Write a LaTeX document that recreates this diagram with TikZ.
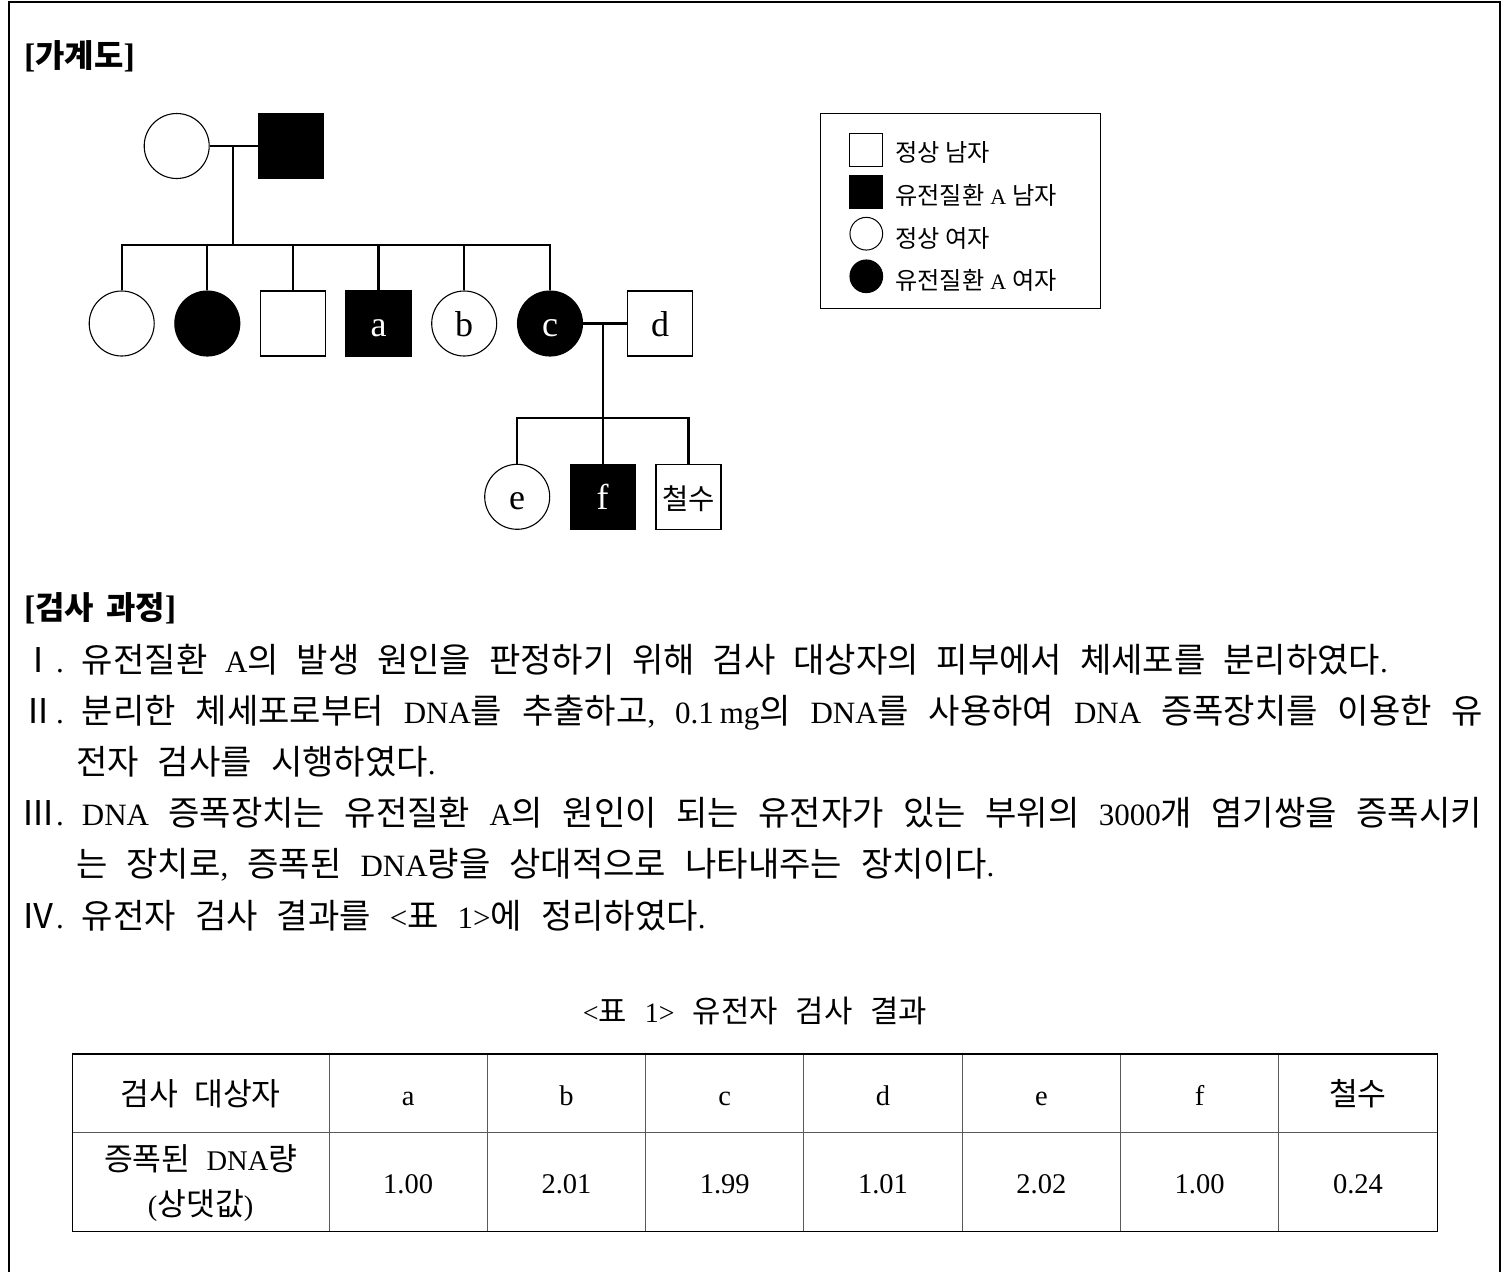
\documentclass[tikz,border=0pt]{standalone}
\usepackage{fontspec}
\setmainfont{Liberation Serif}
\newfontfamily\krfont{Noto Sans CJK KR}[Scale=1.1]
\XeTeXinterchartokenstate=1
\newXeTeXintercharclass\krclass
\makeatletter
\count@="AC00
\loop\ifnum\count@<"D7A4
  \XeTeXcharclass\count@=\krclass
  \advance\count@ by 1
\repeat
\makeatother
\XeTeXcharclass"2160=\krclass
\XeTeXcharclass"2161=\krclass
\XeTeXcharclass"2162=\krclass
\XeTeXcharclass"2163=\krclass
\XeTeXinterchartoks 0 \krclass = {\krfont}
\XeTeXinterchartoks 4095 \krclass = {\krfont}
\XeTeXinterchartoks \krclass 0 = {\rmfamily}
\XeTeXinterchartoks \krclass 4095 = {\rmfamily}
\newcommand\mybodyfont{\fontsize{31}{37}\selectfont\frenchspacing\spaceskip=19pt plus 40pt minus 8pt\xspaceskip=\spaceskip}
\newcommand\mylegfont{\fontsize{22}{26}\selectfont\spaceskip=6pt\relax}
\newcommand\mytabfont{\fontsize{28.5}{34}\selectfont\spaceskip=16pt\relax}
\newcommand\mycapfont{\fontsize{28}{34}\selectfont\spaceskip=18pt\relax}
\newcommand\myheadfont{\fontsize{29}{36}\selectfont\bfseries\spaceskip=12pt\relax}
\newcommand\bigbr[1]{{\fontsize{34}{38}\selectfont#1}}
\begin{document}
\begin{tikzpicture}[x=1pt,y=-1pt,
  ped/.style={draw=black, line width=1.1pt, minimum size=65pt, inner sep=0pt, text height=25pt, text depth=0pt, font=\fontsize{36}{40}\selectfont},
  fem/.style={ped, circle},
  mal/.style={ped, rectangle},
  aff/.style={fill=black, text=white},
  link/.style={line width=2.3pt},
  leg/.style={draw=black, line width=1pt, minimum size=32.7pt, inner sep=0pt},
  legtxt/.style={anchor=base west, inner sep=0pt, font=\mylegfont},
  body/.style={anchor=base west, inner sep=0pt, font=\mybodyfont},
  numr/.style={anchor=base east, inner sep=0pt, font=\mybodyfont},
  head/.style={anchor=base west, inner sep=0pt, font=\myheadfont},
  tab/.style={anchor=base, inner sep=0pt, font=\mytabfont},
  outer/.style={line width=1.5pt, draw=black},
  inner/.style={line width=1pt, draw=black!65}
]
\useasboundingbox (0,0) rectangle (1504,1272);
\draw[line width=1.5pt] (9,1272) -- (9,2) -- (1500,2) -- (1500,1272);

% headings
\node[head] (h1) at (24,67) {\bigbr{[}가계도\bigbr{]}};
\node[head] (h2) at (24,619) {\bigbr{[}검사 과정\bigbr{]}};

% pedigree: generation I
\node[fem] (gm) at (176.7,146) {};
\node[mal,aff] (gf) at (290.8,146) {};
\coordinate (m1) at (233.3,146);
\coordinate (bar) at (0,245);
\draw[link] (gm.east) -- (gf.west);
\draw[link] (m1) -- (m1 |- bar);

% generation II
\node[fem] (c1) at (121.7,323.5) {};
\node[fem,aff] (c2) at (207.3,323.5) {};
\node[mal] (c3) at (292.8,323.5) {};
\node[mal,aff] (pa) at (378.5,323.5) {a};
\node[fem] (pb) at (464.2,323.5) {b};
\node[fem,aff] (pc) at (550,323.5) {c};
\node[mal] (pd) at (660.2,323.5) {d};
\draw[link] (c1.north) -- (c1.north |- bar) -- (pc.north |- bar) -- (pc.north);
\foreach \n in {c2,c3,pa,pb}{\draw[link] (\n.north) -- (\n.north |- bar);}
\coordinate (m2) at (602.7,323.5);
\coordinate (bar2) at (0,418.3);
\draw[link] (pc.east) -- (pd.west);
\draw[link] (m2) -- (m2 |- bar2);

% generation III
\node[fem] (pe) at (517.2,496.8) {e};
\node[mal,aff] (pf) at (602.7,496.8) {f};
\node[mal,font=\fontsize{26}{30}\selectfont] (cs) at (688.5,496.8) {철수};
\draw[link] (pe.north) -- (pe.north |- bar2) -- (cs.north |- bar2) -- (cs.north);
\draw[link] (pf.north) -- (pf.north |- bar2);

% legend
\draw[line width=1pt] (820.7,113.3) rectangle (1100,308.3);
\node[leg,rectangle] (l1s) at (866.3,149.7) {};
\node[leg,rectangle,fill=black] (l2s) at (866.3,192.2) {};
\node[leg,circle] (l3s) at (866.3,233.7) {};
\node[leg,circle,fill=black] (l4s) at (866.3,276.3) {};
\node[legtxt] (l1t) at (895,161.7) {정상 남자};
\node[legtxt] (l2t) at (895,204) {유전질환 A 남자};
\node[legtxt] (l3t) at (895,247) {정상 여자};
\node[legtxt] (l4t) at (895,289.5) {유전질환 A 여자};

% procedure text
\node[numr] (n1) at (64,672) {Ⅰ.};
\node[body] (t1) at (81.7,672) {\makebox[1306pt][s]{유전질환 A의 발생 원인을 판정하기 위해 검사 대상자의 피부에서 체세포를 분리하였다.}};
\node[numr] (n2) at (64,723.2) {Ⅱ.};
\node[body] (t2) at (81.7,723.2) {\makebox[1401pt][s]{분리한 체세포로부터 DNA를 추출하고, 0.1\hspace{6pt}mg의 DNA를 사용하여 DNA 증폭장치를 이용한 유}};
\node[body] (t3) at (76,774.4) {전자 검사를 시행하였다.};
\node[numr] (n3) at (64,825.6) {Ⅲ.};
\node[body] (t4) at (81.7,825.6) {\makebox[1400pt][s]{DNA 증폭장치는 유전질환 A의 원인이 되는 유전자가 있는 부위의 3000개 염기쌍을 증폭시키}};
\node[body] (t5) at (76,876.8) {는 장치로, 증폭된 DNA량을 상대적으로 나타내주는 장치이다.};
\node[numr] (n4) at (64,928) {Ⅳ.};
\node[body] (t6) at (81.7,928) {유전자 검사 결과를 <표 1>에 정리하였다.};

% table caption
\node[anchor=base, inner sep=0pt, font=\mycapfont] (cap) at (755,1022) {<표 1> 유전자 검사 결과};

% table grid
\foreach \x in {329,487.3,645.6,803.9,962.2,1120.5,1278.8}{\draw[inner] (\x,1054) -- (\x,1231.7);}
\draw[inner] (72.3,1132.7) -- (1437.5,1132.7);
\draw[outer] (72.3,1054) rectangle (1437.5,1231.7);

% table contents
\node[tab] (r1c0) at (200.7,1105) {검사 대상자};
\node[tab] (r2c0a) at (200.7,1170) {증폭된 DNA량};
\node[tab] (r2c0b) at (200.7,1215) {(상댓값)};
\foreach \lab/\val [count=\i] in {a/1.00, b/2.01, c/1.99, d/1.01, e/2.02, f/1.00, 철수/0.24}{
  \node[tab] (r1c\i) at ({329+158.3*(\i-0.5)},1105) {\lab};
  \node[tab] (r2c\i) at ({329+158.3*(\i-0.5)},1193) {\val};
}
\end{tikzpicture}
\end{document}
